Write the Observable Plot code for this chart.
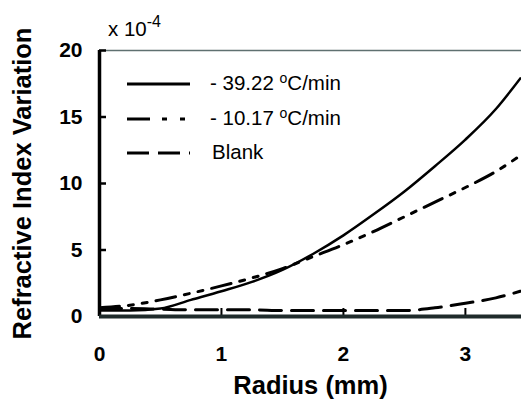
<!DOCTYPE html>
<html>
<head>
<meta charset="utf-8">
<script src="https://cdn.jsdelivr.net/npm/d3@7"></script>
<script src="https://cdn.jsdelivr.net/npm/@observablehq/plot@0.6"></script>
<style>
  html, body { margin: 0; padding: 0; background: #fff; }
  #wrap { position: relative; width: 521px; height: 413px; font-family: "Liberation Sans", Arial, sans-serif; }
  #wrap svg.plot { position: absolute; left: 0; top: 0; }
  .ov { position: absolute; color: #000; font-size: 20.5px; white-space: nowrap; line-height: 1; font-family: "Liberation Sans", Arial, sans-serif; }
  .ov sup { font-size: 14px; position: relative; top: -2px; vertical-align: top; }
  .lg { position: absolute; left: 127px; width: 63px; height: 6px; }
</style>
</head>
<body>
<div id="wrap"></div>
<script>
// ---- data ----
const radius = [0, 0.25, 0.5, 0.75, 1.0, 1.25, 1.5, 1.75, 2.0, 2.25, 2.5, 2.75, 3.0, 3.25, 3.45];
const fast   = [0.45, 0.45, 0.6, 1.25, 1.9, 2.6, 3.5, 4.7, 6.1, 7.7, 9.4, 11.3, 13.3, 15.6, 17.9]; // -39.22 °C/min
const slow   = [0.65, 0.85, 1.25, 1.75, 2.3, 2.9, 3.6, 4.5, 5.4, 6.4, 7.5, 8.6, 9.7, 10.9, 12.1]; // -10.17 °C/min
const blank  = [0.6, 0.6, 0.55, 0.5, 0.5, 0.5, 0.45, 0.45, 0.45, 0.45, 0.45, 0.65, 1.0, 1.4, 1.9];
const xTicks = [0, 1, 2, 3];
const yTicks = [0, 5, 10, 15, 20];
const seriesNames = ["- 39.22", "- 10.17", "Blank"];
const xTitle = "Radius (mm)";
const yTitle = "Refractive Index Variation";

const toRows = (vals) => radius.map((r, i) => ({r, v: vals[i]}));
const dashes = ["none", "20,9,5,9,5,9", "22,10"];
const fmt = d3.format("d");

const plot = Plot.plot({
  width: 521,
  height: 413,
  marginLeft: 99,
  marginRight: 0,
  marginTop: 50,
  marginBottom: 97,
  style: {fontFamily: "'Liberation Sans', Arial, sans-serif", background: "#fff", color: "#000"},
  x: {domain: [0, 3.46], axis: null},
  y: {domain: [0, 20], axis: null},
  marks: [
    Plot.ruleY([20], {stroke: "#5f7070", strokeWidth: 1.5}),
    Plot.line(toRows(blank), {x: "r", y: "v", stroke: "#000", strokeWidth: 3, strokeDasharray: dashes[2], curve: "monotone-x"}),
    Plot.line(toRows(slow), {x: "r", y: "v", stroke: "#000", strokeWidth: 3, strokeDasharray: dashes[1], curve: "monotone-x"}),
    Plot.line(toRows(fast), {x: "r", y: "v", stroke: "#000", strokeWidth: 2.5, curve: "monotone-x"}),
    Plot.axisY(yTicks, {tickSize: 0, tickPadding: 17, fontSize: 21, fontWeight: "bold", tickFormat: fmt, label: null}),
    Plot.axisY(yTicks, {tickSize: 7, dx: 7, strokeWidth: 2.5, tickFormat: () => "", label: null}),
    Plot.axisX(xTicks, {tickSize: 0, tickPadding: 30, fontSize: 21, fontWeight: "bold", tickFormat: fmt, label: null}),
    Plot.axisX(xTicks, {tickSize: 8, dy: -8, strokeWidth: 2, tickFormat: () => "", label: null}),
    Plot.ruleX([0], {stroke: "#000", strokeWidth: 3.5}),
    Plot.ruleY([0], {stroke: "#1f2b2b", strokeWidth: 4}),
    Plot.text([xTitle], {frameAnchor: "bottom", dy: 77, fontSize: 25.5, fontWeight: "bold", fill: "#000", textAnchor: "middle"}),
    Plot.text([yTitle], {frameAnchor: "left", rotate: -90, dx: -77, textAnchor: "middle", fontSize: 25.5, fontWeight: "bold", fill: "#000"})
  ]
});
const wrap = document.getElementById("wrap");
plot.classList.add("plot");
wrap.appendChild(plot);

// scale label and legend (HTML overlay for superscripts)
function addDiv(html, left, top) {
  const d = document.createElement("div");
  d.className = "ov";
  d.innerHTML = html;
  d.style.left = left + "px";
  d.style.top = top + "px";
  wrap.appendChild(d);
  return d;
}
addDiv("x 10<sup style='font-size:16px;top:-5px'>-4</sup>", 108, 19);

const rowY = [84, 119, 153];
const labels = [seriesNames[0] + " <sup>o</sup>C/min", seriesNames[1] + " <sup>o</sup>C/min", seriesNames[2]];
rowY.forEach((yy, i) => {
  const s = document.createElementNS("http://www.w3.org/2000/svg", "svg");
  s.setAttribute("class", "lg");
  s.setAttribute("width", 63); s.setAttribute("height", 6);
  s.style.top = (yy - 3) + "px";
  const ln = document.createElementNS("http://www.w3.org/2000/svg", "line");
  ln.setAttribute("x1", 0); ln.setAttribute("x2", 63);
  ln.setAttribute("y1", 3); ln.setAttribute("y2", 3);
  ln.setAttribute("stroke", "#000");
  ln.setAttribute("stroke-width", 3);
  if (i === 1) ln.setAttribute("stroke-dasharray", "23,12,5,13,5,10");
  if (i === 2) ln.setAttribute("stroke-dasharray", "22,9");
  s.appendChild(ln);
  wrap.appendChild(s);
  addDiv(labels[i], i === 2 ? 212 : 210, yy - 11);
});
</script>
</body>
</html>
